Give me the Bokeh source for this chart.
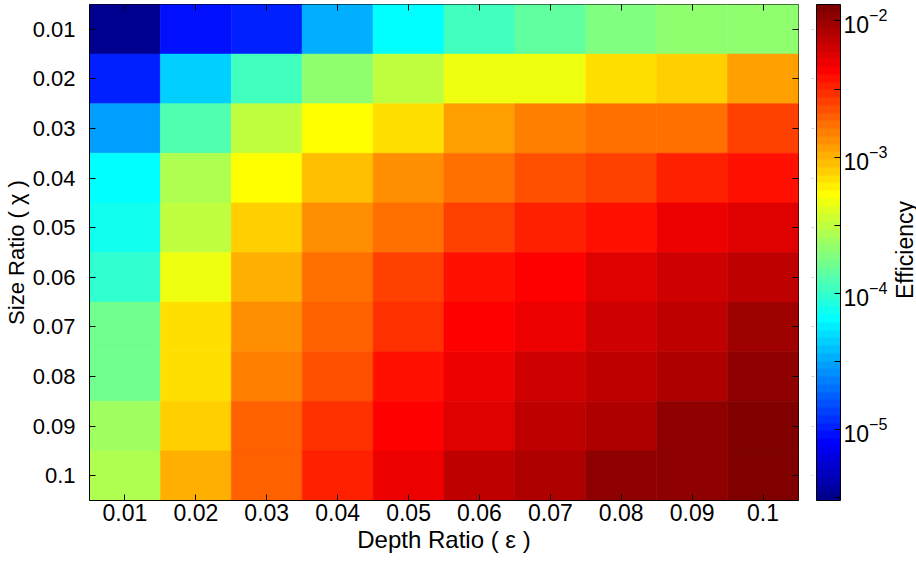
import math
from bokeh.plotting import figure
from bokeh.layouts import row
from bokeh.core.properties import value
from bokeh.models import (LogColorMapper, ColorBar, FixedTicker, LogTickFormatter,
                          ColumnDataSource, CategoricalAxis, FactorRange, Range1d)
from bokeh.embed import file_html
from bokeh.resources import INLINE

# ---------------- data ----------------
depth_ratio = ["0.01", "0.02", "0.03", "0.04", "0.05", "0.06", "0.07", "0.08", "0.09", "0.1"]
size_ratio = ["0.01", "0.02", "0.03", "0.04", "0.05", "0.06", "0.07", "0.08", "0.09", "0.1"]

eff_chi_001 = [3.22e-6, 9.19e-6, 1.05e-5, 3.40e-5, 6.56e-5, 1.11e-4, 1.44e-4, 1.87e-4, 2.13e-4, 2.13e-4]
eff_chi_002 = [1.05e-5, 4.42e-5, 1.11e-4, 2.13e-4, 3.15e-4, 4.67e-4, 4.67e-4, 6.92e-4, 7.89e-4, 1.17e-3]
eff_chi_003 = [2.99e-5, 1.26e-4, 3.15e-4, 5.33e-4, 6.92e-4, 1.17e-3, 1.52e-3, 1.73e-3, 1.73e-3, 2.57e-3]
eff_chi_004 = [6.56e-5, 2.77e-4, 5.33e-4, 9.00e-4, 1.33e-3, 1.73e-3, 2.25e-3, 2.57e-3, 3.33e-3, 3.80e-3]
eff_chi_005 = [7.47e-5, 3.15e-4, 7.89e-4, 1.33e-3, 1.73e-3, 2.57e-3, 3.33e-3, 3.80e-3, 4.94e-3, 5.63e-3]
eff_chi_006 = [9.71e-5, 4.67e-4, 1.03e-3, 1.73e-3, 2.57e-3, 3.80e-3, 4.33e-3, 5.63e-3, 6.41e-3, 7.31e-3]
eff_chi_007 = [1.64e-4, 6.92e-4, 1.33e-3, 1.97e-3, 2.92e-3, 4.33e-3, 4.94e-3, 6.41e-3, 7.31e-3, 9.50e-3]
eff_chi_008 = [1.64e-4, 6.92e-4, 1.52e-3, 2.25e-3, 3.80e-3, 4.94e-3, 6.41e-3, 7.31e-3, 8.33e-3, 1.08e-2]
eff_chi_009 = [2.43e-4, 7.89e-4, 1.97e-3, 2.92e-3, 4.33e-3, 5.63e-3, 7.31e-3, 8.33e-3, 1.08e-2, 1.23e-2]
eff_chi_010 = [2.77e-4, 1.03e-3, 1.97e-3, 3.33e-3, 4.94e-3, 7.31e-3, 8.33e-3, 1.08e-2, 1.08e-2, 1.23e-2]

color_low = 3.02e-6
color_high = 1.32e-2
cbar_ticks = [1e-5, 1e-4, 1e-3, 1e-2]
cbar_minor_ticks = [3.16e-6, 3.16e-5, 3.16e-4, 3.16e-3]
cbar_title = "Efficiency"

rows = [eff_chi_001, eff_chi_002, eff_chi_003, eff_chi_004, eff_chi_005,
        eff_chi_006, eff_chi_007, eff_chi_008, eff_chi_009, eff_chi_010]

xs, ys, vals = [], [], []
for s, r_ in zip(size_ratio, rows):
    for d, v in zip(depth_ratio, r_):
        xs.append(d)
        ys.append(s)
        vals.append(v)
source = ColumnDataSource(dict(x=xs, y=ys, eff=vals))


# MATLAB-style jet(64) palette
def jet(m=64):
    n = m // 4
    u = [k / n for k in range(1, n + 1)] + [1.0] * (n - 1) + [k / n for k in range(n, 0, -1)]
    r = [0.0] * m; g = [0.0] * m; b = [0.0] * m
    for k, val in enumerate(u):
        gi = n // 2 + k + 1
        ri = gi + n
        bi = gi - n
        if 1 <= gi <= m: g[gi - 1] = val
        if 1 <= ri <= m: r[ri - 1] = val
        if 1 <= bi <= m: b[bi - 1] = val
    return ["#%02x%02x%02x" % (round(255 * r[i]), round(255 * g[i]), round(255 * b[i])) for i in range(m)]


palette = jet(64)
mapper = LogColorMapper(palette=palette, low=color_low, high=color_high)

FONT = "Liberation Sans"
FS = "23px"

p = figure(x_range=FactorRange(*depth_ratio), y_range=FactorRange(*reversed(size_ratio)),
           frame_width=709, frame_height=496, output_backend="svg", toolbar_location=None,
           min_border_left=88, min_border_right=84, min_border_top=4, min_border_bottom=61,
           background_fill_color="white", border_fill_color="white")

p.rect(x="x", y="y", width=1, height=1, source=source,
       fill_color={"field": "eff", "transform": mapper},
       line_color={"field": "eff", "transform": mapper}, line_width=0.6)

p.grid.visible = False
p.outline_line_color = "black"
p.outline_line_width = 1

for ax in (p.xaxis[0], p.yaxis[0]):
    ax.major_label_text_font = FONT
    ax.major_label_text_color = "black"
    ax.axis_label_text_font = FONT
    ax.axis_label_text_font_style = "normal"
    ax.axis_label_text_color = "black"
    ax.major_tick_in = 6
    ax.major_tick_out = 0
    ax.major_tick_line_color = "black"
    ax.axis_line_color = "black"

p.xaxis.axis_label = "Depth Ratio ( ε )"
p.yaxis.axis_label = "Size Ratio ( χ )"
p.xaxis.major_label_text_font_size = FS
p.yaxis.major_label_text_font_size = "22px"
p.xaxis.axis_label_text_font_size = "24px"
p.yaxis.axis_label_text_font_size = "22px"
p.xaxis.major_label_standoff = 3
p.xaxis.axis_label_standoff = 2
p.yaxis.major_label_standoff = 14
p.yaxis.axis_label_standoff = 1
p.yaxis.major_label_orientation = "horizontal"

for loc, factors, standoff in (("above", depth_ratio, 0), ("right", size_ratio, 13)):
    ax = CategoricalAxis()
    ax.major_label_overrides = {f: "" for f in factors}
    ax.major_label_text_font_size = "1px"
    ax.major_label_standoff = standoff
    ax.major_tick_in = 6
    ax.major_tick_out = 0
    ax.major_tick_line_color = "black"
    ax.axis_line_color = None
    p.add_layout(ax, loc)

cbar = ColorBar(color_mapper=mapper, width=24, margin=0, padding=0,
                ticker=FixedTicker(ticks=cbar_ticks, minor_ticks=cbar_minor_ticks),
                formatter=LogTickFormatter(),
                major_label_text_font=FONT, major_label_text_font_size=FS,
                major_label_text_color="black", label_standoff=3,
                major_tick_in=6, major_tick_out=0, major_tick_line_color="black",
                minor_tick_in=6, minor_tick_out=0, minor_tick_line_color="black",
                bar_line_color="black", bar_line_width=1,
                border_line_color=None, background_fill_color=None)
p.add_layout(cbar, "right")

# narrow companion figure holding the colour-bar title (reads bottom-to-top)
t = figure(width=29, height=561, output_backend="svg", toolbar_location=None,
           x_range=Range1d(0, 1), y_range=Range1d(0, 1),
           x_axis_location=None, y_axis_location=None,
           min_border_left=0, min_border_right=0, min_border_top=0, min_border_bottom=0,
           outline_line_color=None, background_fill_color="white", border_fill_color="white")
t.grid.visible = False
t.text(x=[0.5], y=[0.505], text=[cbar_title], angle=math.pi / 2,
       text_align="center", text_baseline="middle",
       text_font=value(FONT), text_font_size=FS, text_color="black")

layout = row(p, t, spacing=0)
open("out.html", "w").write(file_html(layout, INLINE))
